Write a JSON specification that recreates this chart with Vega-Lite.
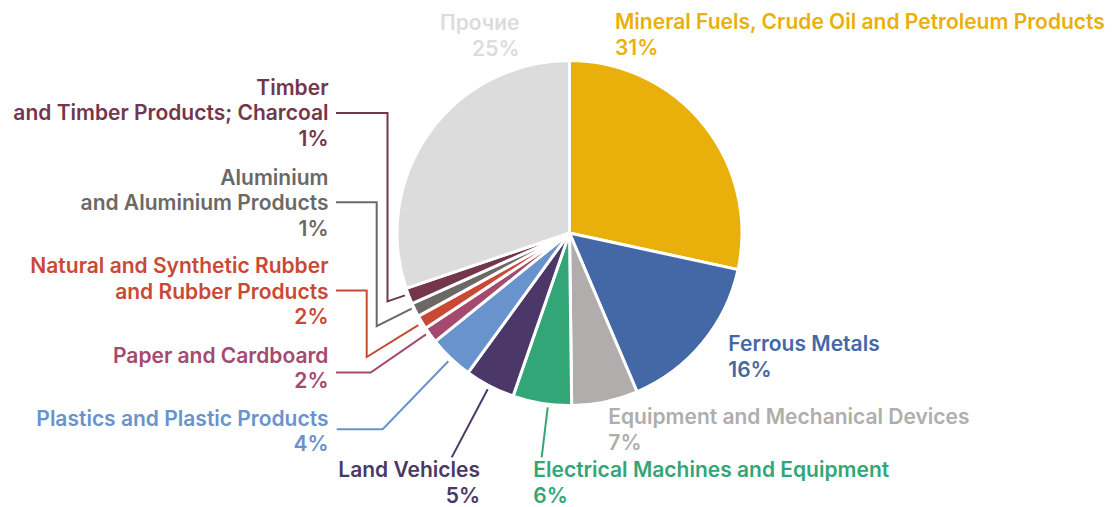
{
  "$schema": "https://vega.github.io/schema/vega-lite/v6.json",
  "width": 1119,
  "height": 507,
  "autosize": {"type": "fit", "contains": "padding"},
  "padding": 0,
  "background": "white",
  "config": {"view": {"stroke": null}},
  "datasets": {
    "slices": [
      {"category": "Mineral Fuels", "share": 28.4, "rank": 1},
      {"category": "Ferrous Metals", "share": 15.2, "rank": 2},
      {"category": "Equipment", "share": 6.2, "rank": 3},
      {"category": "Electrical", "share": 5.5, "rank": 4},
      {"category": "Land Vehicles", "share": 4.7, "rank": 5},
      {"category": "Plastics", "share": 4.2, "rank": 6},
      {"category": "Paper", "share": 1.5, "rank": 7},
      {"category": "Rubber", "share": 1.3, "rank": 8},
      {"category": "Aluminium", "share": 1.3, "rank": 9},
      {"category": "Timber", "share": 1.5, "rank": 10},
      {"category": "Прочие", "share": 30.2, "rank": 11}
    ],
    "labels": [
      {"category": "Mineral Fuels", "side": "left", "text": "Mineral Fuels, Crude Oil and Petroleum Products\n31%", "u": 0.2661, "v": 1.1930},
      {"category": "Прочие", "side": "right", "text": "Прочие\n25%", "u": -0.2924, "v": 1.1871},
      {"category": "Ferrous Metals", "side": "left", "text": "Ferrous Metals\n16%", "u": 0.9287, "v": -0.6930},
      {"category": "Equipment", "side": "left", "text": "Equipment and Mechanical Devices\n7%", "u": 0.2269, "v": -1.1199},
      {"category": "Electrical", "side": "left", "text": "Electrical Machines and Equipment\n6%", "u": -0.2117, "v": -1.4316},
      {"category": "Land Vehicles", "side": "right", "text": "Land Vehicles\n5%", "u": -0.5234, "v": -1.4316},
      {"category": "Plastics", "side": "right", "text": "Plastics and Plastic Products\n4%", "u": -1.4094, "v": -1.1298},
      {"category": "Paper", "side": "right", "text": "Paper and Cardboard\n2%", "u": -1.4094, "v": -0.7591},
      {"category": "Rubber", "side": "right", "text": "Natural and Synthetic Rubber\nand Rubber Products\n2%", "u": -1.4094, "v": -0.2368},
      {"category": "Aluminium", "side": "right", "text": "Aluminium\nand Aluminium Products\n1%", "u": -1.4094, "v": 0.2836},
      {"category": "Timber", "side": "right", "text": "Timber\nand Timber Products; Charcoal\n1%", "u": -1.4094, "v": 0.8099}
    ],
    "leaders": [
      {"category": "Timber", "seq": 1, "u": -1.3655, "v": 0.7029},
      {"category": "Timber", "seq": 2, "u": -1.0643, "v": 0.7029},
      {"category": "Timber", "seq": 3, "u": -1.0643, "v": -0.4006},
      {"category": "Timber", "seq": 4, "u": -0.9620, "v": -0.3655},
      {"category": "Aluminium", "seq": 1, "u": -1.3655, "v": 0.1801},
      {"category": "Aluminium", "seq": 2, "u": -1.1275, "v": 0.1801},
      {"category": "Aluminium", "seq": 3, "u": -1.1275, "v": -0.5450},
      {"category": "Aluminium", "seq": 4, "u": -0.9228, "v": -0.4433},
      {"category": "Rubber", "seq": 1, "u": -1.3655, "v": -0.3363},
      {"category": "Rubber", "seq": 2, "u": -1.1860, "v": -0.3363},
      {"category": "Rubber", "seq": 3, "u": -1.1860, "v": -0.7263},
      {"category": "Rubber", "seq": 4, "u": -0.8842, "v": -0.5392},
      {"category": "Paper", "seq": 1, "u": -1.3655, "v": -0.8175},
      {"category": "Paper", "seq": 2, "u": -1.1626, "v": -0.8175},
      {"category": "Paper", "seq": 3, "u": -0.8392, "v": -0.5936},
      {"category": "Plastics", "seq": 1, "u": -1.3614, "v": -1.1491},
      {"category": "Plastics", "seq": 2, "u": -1.0924, "v": -1.1491},
      {"category": "Plastics", "seq": 3, "u": -0.7088, "v": -0.7515},
      {"category": "Land Vehicles", "seq": 1, "u": -0.4784, "v": -0.9152},
      {"category": "Land Vehicles", "seq": 2, "u": -0.6889, "v": -1.3146},
      {"category": "Electrical", "seq": 1, "u": -0.1275, "v": -1.0222},
      {"category": "Electrical", "seq": 2, "u": -0.1626, "v": -1.3146}
    ]
  },
  "layer": [
    {
      "data": {"name": "slices"},
      "mark": {"type": "arc", "radius": 172.5, "stroke": "white", "strokeWidth": 3},
      "encoding": {
        "theta": {"field": "share", "type": "quantitative", "stack": true},
        "order": {"field": "rank", "type": "quantitative"},
        "color": {
          "field": "category", "type": "nominal", "legend": null,
          "scale": {
            "domain": ["Mineral Fuels", "Ferrous Metals", "Equipment", "Electrical", "Land Vehicles", "Plastics", "Paper", "Rubber", "Aluminium", "Timber", "Прочие"],
            "range": ["#E9AF0B", "#4468A5", "#B0ADAC", "#32A676", "#4B3868", "#6893CC", "#A4496F", "#C94935", "#6C6866", "#73364B", "#DCDCDC"]
          }
        },
        "x": {"datum": 0, "type": "quantitative", "axis": null, "scale": {"domain": [-3.3304, 3.2135], "nice": false, "zero": false}},
        "y": {"datum": 0, "type": "quantitative", "axis": null, "scale": {"domain": [-1.5994, 1.3655], "nice": false, "zero": false}}
      }
    },
    {
      "data": {"name": "leaders"},
      "mark": {"type": "line", "strokeWidth": 2},
      "encoding": {
        "x": {"field": "u", "type": "quantitative", "axis": null, "scale": {"domain": [-3.3304, 3.2135], "nice": false, "zero": false}},
        "y": {"field": "v", "type": "quantitative", "axis": null, "scale": {"domain": [-1.5994, 1.3655], "nice": false, "zero": false}},
        "detail": {"field": "category"},
        "order": {"field": "seq", "type": "quantitative"},
        "color": {"field": "category", "type": "nominal", "legend": null}
      }
    },
    {
      "data": {"name": "labels"},
      "transform": [{"filter": "datum.side === 'left'"}],
      "mark": {"type": "text", "align": "left", "baseline": "alphabetic", "lineBreak": "\n", "lineHeight": 25.5, "font": "Inter", "fontSize": 21, "fontWeight": 600},
      "encoding": {
        "x": {"field": "u", "type": "quantitative", "axis": null},
        "y": {"field": "v", "type": "quantitative", "axis": null},
        "text": {"field": "text"},
        "color": {"field": "category", "type": "nominal", "legend": null}
      }
    },
    {
      "data": {"name": "labels"},
      "transform": [{"filter": "datum.side === 'right'"}],
      "mark": {"type": "text", "align": "right", "baseline": "alphabetic", "lineBreak": "\n", "lineHeight": 25.5, "font": "Inter", "fontSize": 21, "fontWeight": 600},
      "encoding": {
        "x": {"field": "u", "type": "quantitative", "axis": null},
        "y": {"field": "v", "type": "quantitative", "axis": null},
        "text": {"field": "text"},
        "color": {"field": "category", "type": "nominal", "legend": null}
      }
    }
  ]
}
